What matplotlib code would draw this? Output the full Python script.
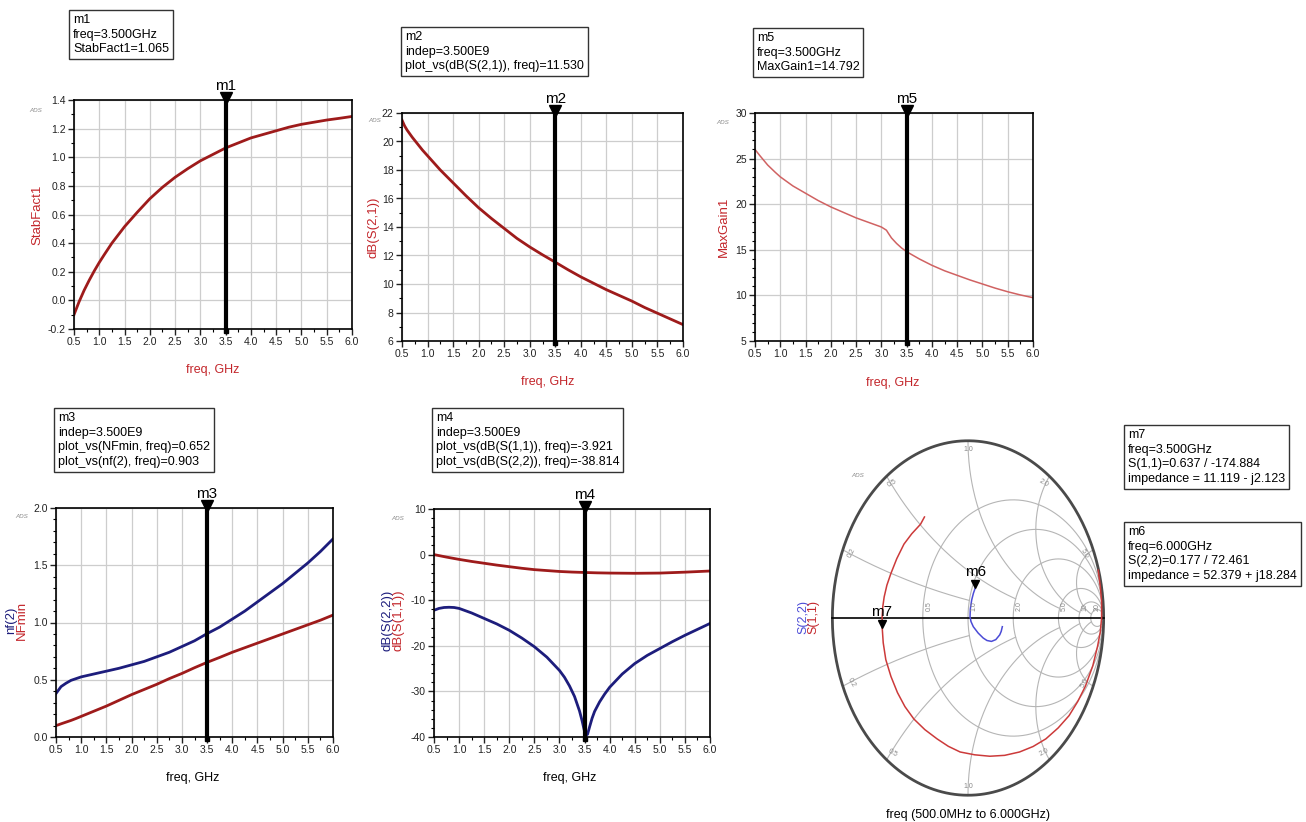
"""Rebuild the ADS amplifier result page: five rectangular plots and a Smith chart."""
import numpy as np
import matplotlib
matplotlib.use("Agg")
import matplotlib.pyplot as plt
from matplotlib.ticker import AutoMinorLocator
from matplotlib.transforms import offset_copy

W, H = 1306, 822
FONT = ["Liberation Sans Narrow", "Liberation Sans", "DejaVu Sans"]

# --- data ---
f_k = [0.5, 0.6, 0.7, 0.8, 0.9, 1.0, 1.1, 1.25, 1.5, 1.75, 2.0, 2.25, 2.5, 2.75, 3.0, 3.25, 3.5,
       3.75, 4.0, 4.25, 4.5, 4.75, 5.0, 5.25, 5.5, 5.75, 6.0]
stabfact = [-0.10, -0.01, 0.07, 0.14, 0.205, 0.265, 0.32, 0.40, 0.515, 0.615, 0.71, 0.79, 0.86, 0.92,
            0.975, 1.02, 1.065, 1.10, 1.135, 1.16, 1.185, 1.21, 1.23, 1.245, 1.26, 1.272, 1.285]

f_s21 = [0.5, 0.55, 0.6, 0.7, 0.8, 0.9, 1.0, 1.25, 1.5, 1.75, 2.0, 2.25, 2.5, 2.75, 3.0, 3.25, 3.5,
         3.75, 4.0, 4.25, 4.5, 4.75, 5.0, 5.25, 5.5, 5.75, 6.0]
s21_db = [21.5, 21.1, 20.8, 20.3, 19.85, 19.4, 19.0, 18.0, 17.1, 16.2, 15.35, 14.6, 13.9, 13.2, 12.6,
          12.05, 11.53, 11.0, 10.5, 10.05, 9.6, 9.2, 8.8, 8.35, 7.95, 7.55, 7.15]

f_gain = [0.5, 0.6, 0.75, 0.9, 1.0, 1.25, 1.5, 1.75, 2.0, 2.25, 2.5, 2.75, 3.0, 3.1, 3.14, 3.2, 3.3,
          3.4, 3.5, 3.75, 4.0, 4.25, 4.5, 4.75, 5.0, 5.25, 5.5, 5.75, 6.0]
maxgain = [26.0, 25.3, 24.3, 23.5, 23.0, 22.0, 21.2, 20.4, 19.7, 19.1, 18.5, 18.0, 17.5, 17.15, 16.8,
           16.3, 15.7, 15.2, 14.79, 14.0, 13.3, 12.7, 12.2, 11.7, 11.25, 10.8, 10.4, 10.05, 9.75]

f_nf = [0.5, 0.55, 0.6, 0.7, 0.8, 0.9, 1.0, 1.25, 1.5, 1.75, 2.0, 2.25, 2.5, 2.75, 3.0, 3.25, 3.5,
        3.75, 4.0, 4.25, 4.5, 4.75, 5.0, 5.25, 5.5, 5.75, 6.0]
nf2 = [0.38, 0.41, 0.44, 0.47, 0.495, 0.51, 0.525, 0.55, 0.575, 0.60, 0.63, 0.66, 0.70, 0.74, 0.79,
       0.84, 0.903, 0.96, 1.03, 1.10, 1.18, 1.26, 1.34, 1.43, 1.52, 1.62, 1.73]
nfmin = [0.10, 0.107, 0.115, 0.13, 0.145, 0.162, 0.18, 0.225, 0.27, 0.32, 0.37, 0.415, 0.46, 0.51,
         0.555, 0.605, 0.652, 0.695, 0.74, 0.78, 0.82, 0.86, 0.90, 0.94, 0.98, 1.02, 1.065]

f_s11 = [0.5, 0.75, 1.0, 1.25, 1.5, 1.75, 2.0, 2.25, 2.5, 2.75, 3.0, 3.25, 3.5, 3.75, 4.0, 4.5, 5.0,
         5.5, 6.0]
s11_db = [0.0, -0.55, -1.05, -1.5, -1.9, -2.3, -2.65, -3.0, -3.3, -3.5, -3.7, -3.83, -3.92, -4.0,
          -4.05, -4.1, -4.05, -3.85, -3.6]
f_s22 = [0.5, 0.55, 0.6, 0.7, 0.8, 0.9, 1.0, 1.25, 1.5, 1.75, 2.0, 2.25, 2.5, 2.75, 3.0, 3.1, 3.2,
         3.3, 3.4, 3.45, 3.5, 3.53, 3.56, 3.6, 3.65, 3.7, 3.8, 3.9, 4.0, 4.25, 4.5, 4.75, 5.0, 5.25,
         5.5, 5.75, 6.0]
s22_db = [-12.2, -12.0, -11.8, -11.6, -11.55, -11.6, -11.8, -12.8, -14.0, -15.2, -16.6, -18.3, -20.2,
          -22.5, -25.4, -26.9, -28.8, -31.1, -34.3, -36.4, -38.8, -39.6, -39.4, -37.8, -35.9, -34.4,
          -32.3, -30.6, -29.1, -26.2, -23.9, -22.1, -20.6, -19.1, -17.7, -16.4, -15.1]

# reflection coefficients on the Smith chart (0.5 GHz -> 6 GHz)
s11_re = [0.96, 0.975, 0.985, 0.985, 0.975, 0.955, 0.92, 0.866, 0.81, 0.745, 0.665, 0.574, 0.48, 0.38,
          0.27, 0.161, 0.05, -0.058, -0.145, -0.228, -0.318, -0.399, -0.465, -0.52, -0.568, -0.606,
          -0.625, -0.633, -0.633, -0.628, -0.618, -0.598, -0.569, -0.525, -0.472, -0.415, -0.35, -0.321]
s11_im = [0.27, 0.18, 0.09, 0.0, -0.08, -0.16, -0.27, -0.384, -0.47, -0.551, -0.62, -0.682, -0.725,
          -0.756, -0.775, -0.78, -0.772, -0.756, -0.724, -0.682, -0.63, -0.57, -0.5, -0.421, -0.33,
          -0.235, -0.14, -0.049, 0.007, 0.065, 0.119, 0.185, 0.25, 0.335, 0.417, 0.475, 0.529, 0.57]
s22_re = [0.253, 0.245, 0.234, 0.205, 0.173, 0.140, 0.112, 0.075, 0.039, 0.022, 0.015, 0.017, 0.027,
          0.040, 0.0533]
s22_im = [-0.049, -0.075, -0.095, -0.122, -0.132, -0.127, -0.113, -0.085, -0.049, -0.020, 0.007, 0.050,
          0.101, 0.140, 0.1688]
m7_mag, m7_ang = 0.637, -174.884
m6_mag, m6_ang = 0.177, 72.461

r_circles = [0.5, 1.0, 2.0, 5.0, 10.0, 20.0]
x_arcs = [0.2, 0.5, 1.0, 2.0, 5.0]
x_arc_rmax = [1.0, 2.0, 5.0, 10.0, 20.0]

freq_ticks = [0.5, 1.0, 1.5, 2.0, 2.5, 3.0, 3.5, 4.0, 4.5, 5.0, 5.5, 6.0]
m_freq = 3.5

# colours
DRED = "#9e1b1b"
LRED = "#d06262"
LBLRED = "#c3262b"
NAVY = "#1d1d7c"
SBLUE = "#4b4bd6"
SRED = "#cc3a3a"
GRID = "#cdcdcd"


def add_ax(fig, l, t, r, b):
    return fig.add_axes([l / W, 1 - b / H, (r - l) / W, (b - t) / H])


def ftext(fig, x, y, s, **kw):
    kw.setdefault("family", FONT)
    return fig.text(x / W, 1 - y / H, s, **kw)


def setup(ax, ylim, yticks, yminor, yfmt):
    ax.set_xlim(0.5, 6.0)
    ax.set_ylim(*ylim)
    ax.set_xticks(freq_ticks)
    ax.set_xticklabels([f"{v:.1f}" for v in freq_ticks])
    ax.set_yticks(yticks)
    ax.set_yticklabels([yfmt.format(v) for v in yticks])
    ax.xaxis.set_minor_locator(AutoMinorLocator(2))
    ax.yaxis.set_minor_locator(AutoMinorLocator(yminor))
    ax.grid(True, color=GRID, lw=0.9)
    ax.set_axisbelow(True)
    ax.tick_params(which="major", direction="out", length=4, width=1, labelsize=7.5, pad=2, colors="#222222")
    ax.tick_params(which="minor", direction="out", length=2, width=0.8)
    for sp in ax.spines.values():
        sp.set_color("black")
        sp.set_linewidth(1.2)
    for lab in ax.get_xticklabels() + ax.get_yticklabels():
        lab.set_family(FONT)


def marker(ax, name, x):
    fig = ax.figure
    y0, y1 = ax.get_ylim()
    ax.axvline(x, color="black", lw=3, zorder=6)
    ax.plot([x], [y1], marker="v", ms=8, color="black", clip_on=False, zorder=7,
            transform=offset_copy(ax.transData, fig=fig, y=2, units="dots"))
    ax.plot([x], [y0], marker="s", ms=3.5, color="black", clip_on=False, zorder=7,
            transform=offset_copy(ax.transData, fig=fig, y=-2, units="dots"))
    ax.annotate(name, (x, y1), xytext=(0, 7), textcoords="offset pixels", ha="center", va="bottom",
                fontsize=11, family=FONT, annotation_clip=False)


def box(fig, x, y, s):
    ftext(fig, x, y, s, fontsize=9, va="top", ha="left", linespacing=1.3,
          bbox=dict(boxstyle="square,pad=0.3", fc="white", ec="#333333", lw=1))


def ads(fig, x, y):
    ftext(fig, x, y, "ADS", fontsize=4.5, color="#888888", style="italic", ha="center", va="center")


def gamma(z):
    return (z - 1) / (z + 1)


def main():
    fig = plt.figure(figsize=(W / 100, H / 100), dpi=100)

    # Plot m1: stability factor
    ax1 = add_ax(fig, 74, 100, 352, 329)
    setup(ax1, (-0.2, 1.4), [-0.2, 0.0, 0.2, 0.4, 0.6, 0.8, 1.0, 1.2, 1.4], 2, "{:.1f}")
    ax1.plot(f_k, stabfact, color=DRED, lw=2)
    marker(ax1, "m1", m_freq)
    box(fig, 73, 14, "m1\nfreq=3.500GHz\nStabFact1=1.065")
    ftext(fig, 37, 215, "StabFact1", rotation=90, color=LBLRED, fontsize=9.5, ha="center", va="center")
    ftext(fig, 213, 370, "freq, GHz", color=LBLRED, fontsize=9, ha="center", va="center")
    ads(fig, 36, 110)

    # Plot m2: dB(S21)
    ax2 = add_ax(fig, 402, 113, 683, 341)
    setup(ax2, (6, 22), list(range(6, 23, 2)), 2, "{:d}")
    ax2.plot(f_s21, s21_db, color=DRED, lw=2)
    marker(ax2, "m2", m_freq)
    box(fig, 405, 31, "m2\nindep=3.500E9\nplot_vs(dB(S(2,1)), freq)=11.530")
    ftext(fig, 373, 227, "dB(S(2,1))", rotation=90, color=LBLRED, fontsize=9.5, ha="center", va="center")
    ftext(fig, 548, 382, "freq, GHz", color=LBLRED, fontsize=9, ha="center", va="center")
    ads(fig, 375, 120)

    # Plot m5: MaxGain
    ax3 = add_ax(fig, 755, 113, 1033, 341)
    setup(ax3, (5, 30), list(range(5, 31, 5)), 5, "{:d}")
    ax3.plot(f_gain, maxgain, color=LRED, lw=1.1)
    marker(ax3, "m5", m_freq)
    box(fig, 757, 32, "m5\nfreq=3.500GHz\nMaxGain1=14.792")
    ftext(fig, 724, 227, "MaxGain1", rotation=90, color=LBLRED, fontsize=9.5, ha="center", va="center")
    ftext(fig, 893, 383, "freq, GHz", color=LBLRED, fontsize=9, ha="center", va="center")
    ads(fig, 723, 122)

    # Plot m3: noise figure
    ax4 = add_ax(fig, 56, 508, 333, 737)
    setup(ax4, (0, 2), [0.0, 0.5, 1.0, 1.5, 2.0], 5, "{:.1f}")
    ax4.plot(f_nf, nf2, color=NAVY, lw=2)
    ax4.plot(f_nf, nfmin, color=DRED, lw=2)
    marker(ax4, "m3", m_freq)
    box(fig, 58, 412, "m3\nindep=3.500E9\nplot_vs(NFmin, freq)=0.652\nplot_vs(nf(2), freq)=0.903")
    ftext(fig, 11, 620, "nf(2)", rotation=90, color=NAVY, fontsize=9.5, ha="center", va="center")
    ftext(fig, 22, 620, "NFmin", rotation=90, color=LBLRED, fontsize=9.5, ha="center", va="center")
    ftext(fig, 193, 778, "freq, GHz", color="black", fontsize=9, ha="center", va="center")
    ads(fig, 22, 517)

    # Plot m4: input / output return loss
    ax5 = add_ax(fig, 434, 509, 710, 737)
    setup(ax5, (-40, 10), list(range(-40, 11, 10)), 5, "{:d}")
    ax5.plot(f_s11, s11_db, color=DRED, lw=2)
    ax5.plot(f_s22, s22_db, color=NAVY, lw=2)
    marker(ax5, "m4", m_freq)
    box(fig, 436, 412, "m4\nindep=3.500E9\nplot_vs(dB(S(1,1)), freq)=-3.921\nplot_vs(dB(S(2,2)), freq)=-38.814")
    ftext(fig, 388, 620, "dB(S(2,2))", rotation=90, color=NAVY, fontsize=9.5, ha="center", va="center")
    ftext(fig, 398, 620, "dB(S(1,1))", rotation=90, color=LBLRED, fontsize=9.5, ha="center", va="center")
    ftext(fig, 570, 778, "freq, GHz", color="black", fontsize=9, ha="center", va="center")
    ads(fig, 398, 518)

    # Smith chart
    axs = add_ax(fig, 831, 439, 1105, 797)
    axs.set_xlim(-1.01, 1.01)
    axs.set_ylim(-1.01, 1.01)
    axs.axis("off")
    t = np.linspace(0, 2 * np.pi, 400)
    for r in r_circles:
        c, rad = r / (1 + r), 1 / (1 + r)
        axs.plot(c + rad * np.cos(t), rad * np.sin(t), color="#b5b5b5", lw=0.8)
        axs.text(c - rad + 0.02, 0.04, f"{r:.1f}" if r < 10 else f"{r:.0f}", rotation=90, fontsize=5,
                 color="#888888", ha="left", va="bottom", family=FONT)
    for xv, rmax in zip(x_arcs, x_arc_rmax):
        rr = np.concatenate([np.linspace(0, 1, 80), np.geomspace(1, rmax, 120)])
        for sgn in (1, -1):
            g = gamma(rr + 1j * sgn * xv)
            axs.plot(g.real, g.imag, color="#b5b5b5", lw=0.8)
            g0 = gamma(1j * sgn * xv)
            ang = np.degrees(np.arctan2(g0.imag * 179, g0.real * 137)) + 90
            if ang > 90:
                ang -= 180
            if ang < -90:
                ang += 180
            axs.text(g0.real * 0.93, g0.imag * 0.95, f"{xv:.1f}", rotation=ang, fontsize=5,
                     color="#888888", ha="center", va="center", family=FONT)
    axs.plot(np.cos(t), np.sin(t), color="#4a4a4a", lw=2)
    axs.plot([-1, 1], [0, 0], color="black", lw=1.2)
    axs.plot(s11_re, s11_im, color=SRED, lw=1.1)
    axs.plot(s22_re, s22_im, color=SBLUE, lw=1.1)
    for name, mag, ang in (("m7", m7_mag, m7_ang), ("m6", m6_mag, m6_ang)):
        gx, gy = mag * np.cos(np.radians(ang)), mag * np.sin(np.radians(ang))
        axs.plot([gx], [gy], marker="v", ms=6, color="black", zorder=7,
                 transform=offset_copy(axs.transData, fig=fig, y=4, units="dots"))
        axs.annotate(name, (gx, gy), xytext=(0, 9), textcoords="offset pixels", ha="center", va="bottom",
                     fontsize=11, family=FONT)
    box(fig, 1128, 429, "m7\nfreq=3.500GHz\nS(1,1)=0.637 / -174.884\nimpedance = 11.119 - j2.123")
    box(fig, 1128, 526, "m6\nfreq=6.000GHz\nS(2,2)=0.177 / 72.461\nimpedance = 52.379 + j18.284")
    ftext(fig, 803, 617, "S(2,2)", rotation=90, color=SBLUE, fontsize=9, ha="center", va="center")
    ftext(fig, 813, 617, "S(1,1)", rotation=90, color=LBLRED, fontsize=9, ha="center", va="center")
    ftext(fig, 968, 815, "freq (500.0MHz to 6.000GHz)", color="black", fontsize=9, ha="center", va="center")
    ads(fig, 858, 475)

    fig.savefig("out.png", dpi=100, facecolor="white")
    plt.close(fig)


if __name__ == "__main__":
    main()
